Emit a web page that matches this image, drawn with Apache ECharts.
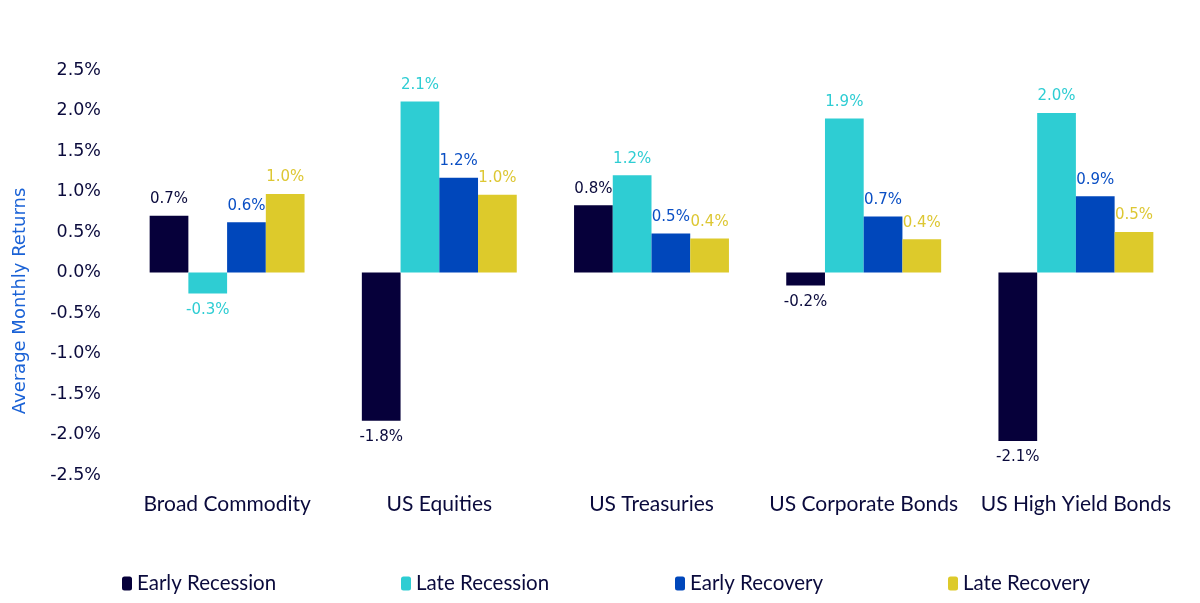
<!DOCTYPE html>
<html>
<head>
<meta charset="utf-8">
<script src="https://cdn.jsdelivr.net/npm/echarts@6/dist/echarts.min.js"></script>
<style>
  html, body { margin: 0; padding: 0; background: #fff; }
  #chart { width: 1200px; height: 603px; }
</style>
</head>
<body>
<div id="chart"></div>
<script>
var categories = ['Broad Commodity', 'US Equities', 'US Treasuries', 'US Corporate Bonds', 'US High Yield Bonds'];
var seriesNames = ['Early Recession', 'Late Recession', 'Early Recovery', 'Late Recovery'];
var earlyRecession = [0.70, -1.83, 0.83, -0.16, -2.08];
var lateRecession = [-0.26, 2.11, 1.20, 1.90, 1.97];
var earlyRecovery = [0.62, 1.17, 0.48, 0.69, 0.94];
var lateRecovery = [0.97, 0.96, 0.42, 0.41, 0.50];
var axisTitle = 'Average Monthly Returns';
var colors = ['#06003a', '#2ecdd3', '#0047bb', '#ddca2b'];
var labelColors = ['#0a0a3c', '#2ecdd3', '#0a4fc4', '#ddc733'];

var chart = echarts.init(document.getElementById('chart'));

function makeSeries(name, values, idx) {
    return {
        name: name,
        type: 'bar',
        barGap: '0%',
        barCategoryGap: '27%',
        itemStyle: { color: colors[idx] },
        data: values.map(function (v) {
            return {
                value: v,
                label: { position: v < 0 ? 'bottom' : 'top' }
            };
        }),
        label: {
            show: true,
            distance: 9,
            color: labelColors[idx],
            fontFamily: 'DejaVu Sans',
            fontSize: 15,
            formatter: function (p) { return p.value.toFixed(1) + '%'; }
        }
    };
}

var legendLefts = [117, 396, 670, 943];
var option = {
    backgroundColor: '#fff',
    animation: false,
    grid: { left: 121, right: 18, top: 70, bottom: 128 },
    // axis title sits a little below the plot centre in the original
    graphic: [{
        type: 'text',
        x: 20,
        y: 301,
        rotation: Math.PI / 2,
        style: {
            text: axisTitle,
            fontFamily: 'DejaVu Sans',
            fontSize: 18,
            fill: '#1a62d6',
            align: 'center',
            verticalAlign: 'middle'
        }
    }],
    legend: seriesNames.map(function (n, i) {
        return {
            data: [n],
            left: legendLefts[i],
            top: 568,
            itemWidth: 10,
            itemHeight: 14,
            itemGap: 6,
            textStyle: { fontFamily: 'Lato', fontSize: 20.5, color: '#0a0a3c' }
        };
    }),
    xAxis: {
        type: 'category',
        data: categories,
        axisLine: { show: false, onZero: false },
        axisTick: { show: false },
        axisLabel: { interval: 0, margin: 19, fontFamily: 'Lato', fontSize: 21, color: '#0a0a3c' }
    },
    yAxis: {
        type: 'value',
        min: -2.5,
        max: 2.5,
        interval: 0.5,
        splitLine: { show: false },
        axisLine: { show: false },
        axisTick: { show: false },
        axisLabel: {
            margin: 20,
            fontFamily: 'DejaVu Sans',
            fontSize: 17.5,
            color: '#0a0a3c',
            formatter: function (v) { return v.toFixed(1) + '%'; }
        }
    },
    series: [
        makeSeries(seriesNames[0], earlyRecession, 0),
        makeSeries(seriesNames[1], lateRecession, 1),
        makeSeries(seriesNames[2], earlyRecovery, 2),
        makeSeries(seriesNames[3], lateRecovery, 3)
    ]
};
chart.setOption(option);
</script>
</body>
</html>
